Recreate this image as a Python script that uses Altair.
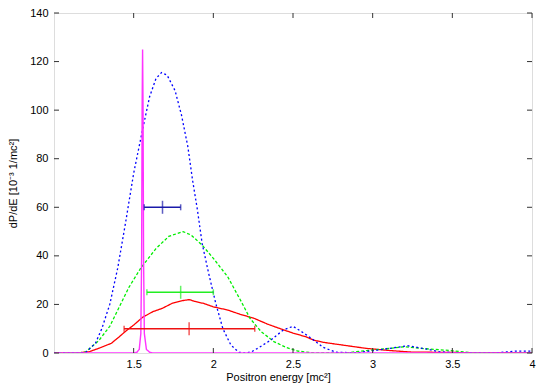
import altair as alt
import pandas as pd

# ---- data ----
x_ticks = [1.5, 2, 2.5, 3, 3.5, 4]
y_ticks = [0, 20, 40, 60, 80, 100, 120, 140]

red_x = [1.0, 1.14, 1.22, 1.28, 1.36, 1.41, 1.45, 1.5, 1.556, 1.62, 1.68, 1.74, 1.8, 1.85, 1.88, 1.94,
         2.0, 2.09, 2.17, 2.255, 2.34, 2.42, 2.5, 2.58, 2.63, 2.69, 2.84, 2.96, 3.11, 3.24, 3.5, 4.0]
red_y = [0, 0, 0.5, 1.9, 4, 6.7, 9, 11.5, 14.7, 17, 18.4, 20.4, 21.5, 22, 21.3, 20.4,
         19, 17.7, 15.9, 14.3, 11.9, 10, 8.2, 6.7, 5.3, 4.4, 3, 1.9, 1, 0.4, 0.2, 0.1]

green_x = [1.0, 1.15, 1.2, 1.28, 1.35, 1.41, 1.47, 1.545, 1.64, 1.72, 1.81, 1.86, 1.93, 2.0, 2.09, 2.17,
           2.23, 2.3, 2.38, 2.46, 2.53, 2.63, 2.84, 2.99, 3.11, 3.2, 3.3, 3.49, 3.61, 3.8, 4.0]
green_y = [0, 0, 0.5, 5, 11, 19, 27, 35, 43, 48, 50, 48.6, 44.4, 39, 31.4, 21.8,
           14.3, 8.8, 4.7, 2.2, 0.8, 0, 0.1, 1.2, 1.9, 2.6, 1.9, 1, 0.2, 0, 0]

blue_x = [1.0, 1.15, 1.2, 1.26, 1.3, 1.35, 1.4, 1.45, 1.5, 1.556, 1.6, 1.64, 1.675, 1.71, 1.76, 1.8,
          1.84, 1.87, 1.9, 1.93, 1.97, 2.015, 2.06, 2.11, 2.16, 2.2, 2.24, 2.28, 2.36, 2.44, 2.5, 2.57,
          2.63, 2.69, 2.77, 2.9, 3.03, 3.15, 3.22, 3.34, 3.42, 3.55, 3.76, 3.9, 4.0]
blue_y = [0, 0, 0.3, 4, 10, 20, 35, 54, 74, 92, 105.5, 113, 115.5, 114.4, 108, 98,
          85, 71, 59, 45, 33, 20.5, 10, 3.3, 0.3, 0, 0.5, 2, 5.3, 9.5, 11, 8.1,
          5.3, 2.3, 0.3, 0.1, 1.2, 2.3, 3, 1.6, 0.5, 0, 0, 0.8, 0.8]

magenta_x = [1.0, 1.5, 1.52, 1.535, 1.545, 1.55, 1.553, 1.556, 1.559, 1.562, 1.567, 1.58, 1.6, 1.62, 4.0]
magenta_y = [0, 0, 0.3, 1.5, 8, 40, 100, 125, 100, 40, 8, 1.5, 0.3, 0, 0]

err_name = ["red", "green", "blue"]
err_y = [10, 25, 60]
err_center = [1.848, 1.795, 1.681]
err_lo = [1.44, 1.583, 1.566]
err_hi = [2.26, 2.0, 1.795]

# ---- styling ----
W, H = 478, 340
FONT = "Liberation Sans"
line_colors = {"red": "#ff0000", "green": "#00ee00", "blue": "#0000ff", "magenta": "#ff33ff"}
line_dash = {"red": [1, 0], "green": [3, 2], "blue": [2, 2.5], "magenta": [1, 0]}
err_colors = {"red": "#ee1111", "green": "#22ee22", "blue": "#1a1aaa"}

xs = alt.Scale(domain=[1, 4], nice=False, zero=False)
ys = alt.Scale(domain=[0, 140], nice=False, zero=False)

x_axis = alt.Axis(values=x_ticks, format="~g", title="Positron energy [mc²]", grid=False, domain=False,
                  tickSize=0, labelPadding=5, labelFontSize=11, labelFont=FONT, labelColor="#000",
                  titleFont=FONT, titleFontSize=11, titleFontWeight="normal", titleColor="#000",
                  titleX=224, titleY=27, titleBaseline="alphabetic", labelFlush=False)
y_axis = alt.Axis(values=y_ticks, title="dP/dE [10⁻³ 1/mc²]", grid=False, domain=False,
                  tickSize=0, labelPadding=6, labelFontSize=11, labelFont=FONT, labelColor="#000",
                  titleFont=FONT, titleFontSize=11, titleFontWeight="normal", titleColor="#000",
                  titleX=-41, titleY=170, titleAngle=270, titleAlign="center",
                  titleBaseline="middle", labelFlush=False)


def X(field):
    return alt.X(field, scale=xs, axis=x_axis)


def Y(field):
    return alt.Y(field, scale=ys, axis=y_axis)


series = [("red", red_x, red_y), ("green", green_x, green_y),
          ("blue", blue_x, blue_y), ("magenta", magenta_x, magenta_y)]

layers = []
for name, sx, sy in series:
    d = pd.DataFrame({"x": sx, "y": sy})
    layers.append(
        alt.Chart(d).mark_line(color=line_colors[name], strokeDash=line_dash[name],
                               strokeWidth=1.3 if name != "magenta" else 1.4, clip=True)
        .encode(x=X("x:Q"), y=Y("y:Q"))
    )

err = pd.DataFrame({"name": err_name, "y": err_y, "c": err_center, "lo": err_lo, "hi": err_hi})
for i, name in enumerate(err_name):
    d = err.iloc[[i]]
    col = err_colors[name]
    layers.append(alt.Chart(d).mark_rule(color=col, strokeWidth=1.5)
                  .encode(x=X("lo:Q"), x2="hi:Q", y=Y("y:Q")))
    for field, size in (("lo", 6), ("hi", 6), ("c", 13)):
        layers.append(alt.Chart(d).mark_tick(color=col, orient="vertical", size=size, thickness=1.5)
                      .encode(x=X(f"{field}:Q"), y=Y("y:Q")))

# inward gnuplot-style ticks on all four sides
xt = pd.DataFrame({"t": x_ticks})
yt = pd.DataFrame({"t": y_ticks})
tick_col = "#333333"
layers.append(alt.Chart(xt).mark_rule(color=tick_col)
              .encode(x=X("t:Q"), y=alt.value(H), y2=alt.value(H - 5)))
layers.append(alt.Chart(xt).mark_rule(color=tick_col)
              .encode(x=X("t:Q"), y=alt.value(0), y2=alt.value(5)))
layers.append(alt.Chart(yt).mark_rule(color=tick_col)
              .encode(y=Y("t:Q"), x=alt.value(0), x2=alt.value(5)))
layers.append(alt.Chart(yt).mark_rule(color=tick_col)
              .encode(y=Y("t:Q"), x=alt.value(W), x2=alt.value(W - 5)))

chart = (
    alt.layer(*layers)
    .properties(width=W, height=H, autosize=alt.AutoSizeParams(type="none"),
                padding={"left": 46, "top": 5, "right": 10, "bottom": 30})
    .configure_view(stroke="#333333", strokeWidth=1)
    .configure(background="white")
)

chart.save("out.html", embed_options={"renderer": "svg", "actions": False})
